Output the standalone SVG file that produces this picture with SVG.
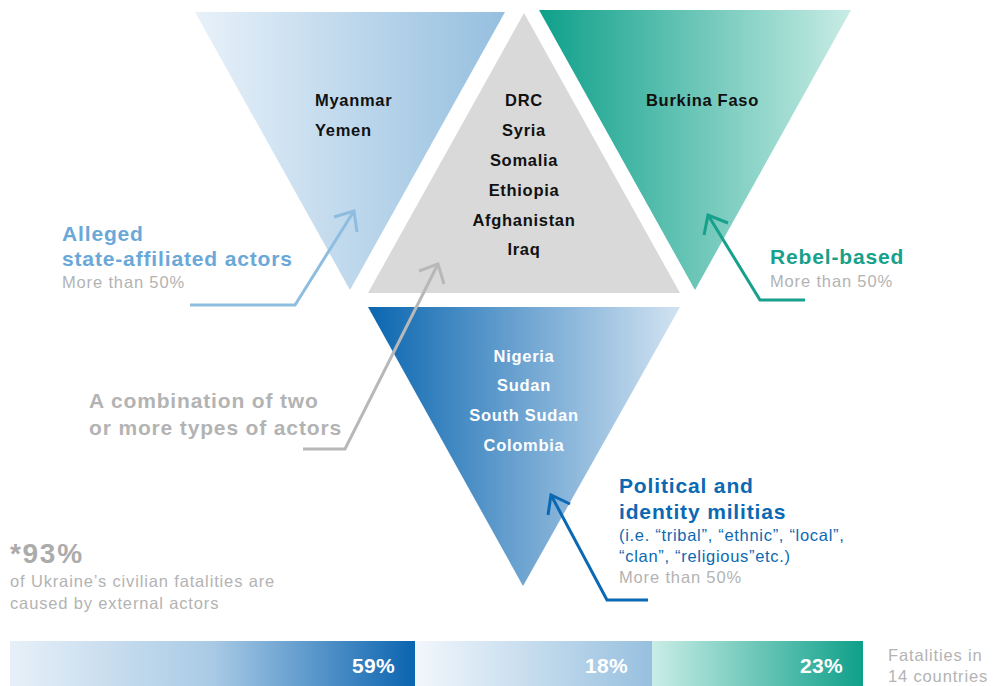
<svg xmlns="http://www.w3.org/2000/svg" width="998" height="686" viewBox="0 0 998 686">
  <defs>
    <linearGradient id="gState" x1="0" y1="0" x2="1" y2="0">
      <stop offset="0" stop-color="#e8f1f9"/>
      <stop offset="1" stop-color="#95bfdf"/>
    </linearGradient>
    <linearGradient id="gRebel" x1="0" y1="0" x2="1" y2="0">
      <stop offset="0" stop-color="#0ea08a"/>
      <stop offset="1" stop-color="#c8ece5"/>
    </linearGradient>
    <linearGradient id="gMilitia" x1="0" y1="0" x2="1" y2="0">
      <stop offset="0" stop-color="#0a66b0"/>
      <stop offset="1" stop-color="#d2e3f2"/>
    </linearGradient>
    <linearGradient id="bar1" x1="0" y1="0" x2="1" y2="0">
      <stop offset="0" stop-color="#e7f0f8"/>
      <stop offset="0.5" stop-color="#a9cae5"/>
      <stop offset="1" stop-color="#0a64b0"/>
    </linearGradient>
    <linearGradient id="bar2" x1="0" y1="0" x2="1" y2="0">
      <stop offset="0" stop-color="#f2f7fc"/>
      <stop offset="1" stop-color="#97c0df"/>
    </linearGradient>
    <linearGradient id="bar3" x1="0" y1="0" x2="1" y2="0">
      <stop offset="0" stop-color="#c9ede6"/>
      <stop offset="1" stop-color="#0ea08a"/>
    </linearGradient>
  </defs>
  <style>
    text { font-family: "Liberation Sans", Arial, sans-serif; }
    .country { font-size: 16.5px; font-weight: bold; fill: #111; letter-spacing: 0.7px; }
    .countryW { font-size: 16.5px; font-weight: bold; fill: #ffffff; letter-spacing: 0.7px; }
    .head { font-size: 21px; font-weight: bold; letter-spacing: 0.85px; }
    .sub { font-size: 16.5px; fill: #b3b3b3; letter-spacing: 0.85px; }
    .note { font-size: 16.5px; fill: #0b69b3; letter-spacing: 0.7px; }
    .conn { fill: none; stroke-width: 3; stroke-linejoin: miter; }
    .pct { font-size: 21px; font-weight: bold; fill: #ffffff; letter-spacing: 0.3px; }
  </style>

  <!-- Alleged state-affiliated actors -->
  <g id="state">
    <polygon points="195,12 505,12 350,290" fill="url(#gState)"/>
    <text class="country" x="315" y="106">Myanmar</text>
    <text class="country" x="315" y="136">Yemen</text>
  </g>

  <!-- Combination of actor types -->
  <g id="combination">
    <polygon points="524,13 680,293 368,293" fill="#d9d9d9"/>
    <g class="country" text-anchor="middle">
      <text x="524" y="106">DRC</text>
      <text x="524" y="136">Syria</text>
      <text x="524" y="166">Somalia</text>
      <text x="524" y="196">Ethiopia</text>
      <text x="524" y="226">Afghanistan</text>
      <text x="524" y="255">Iraq</text>
    </g>
  </g>

  <!-- Rebel-based -->
  <g id="rebel">
    <polygon points="539,10 851,10 695,290" fill="url(#gRebel)"/>
    <text class="country" x="646" y="106">Burkina Faso</text>
  </g>

  <!-- Political and identity militias -->
  <g id="militia">
    <polygon points="368,307 680,307 523,586" fill="url(#gMilitia)"/>
    <g class="countryW" text-anchor="middle">
      <text x="524" y="362">Nigeria</text>
      <text x="524" y="391">Sudan</text>
      <text x="524" y="421">South Sudan</text>
      <text x="524" y="451">Colombia</text>
    </g>
  </g>

  <!-- Leader lines -->
  <g id="connectors">
    <g stroke="#8fbde0" class="conn">
      <polyline points="190,305 295,305 354,211"/>
      <polyline points="334,217 354,211 357,232"/>
    </g>
    <g stroke="#b8b8b8" class="conn">
      <polyline points="303,449 345,449 438,264"/>
      <polyline points="419,271 438,264 444,284"/>
    </g>
    <g stroke="#17a08b" class="conn">
      <polyline points="805,300 760,300 708,215"/>
      <polyline points="728,223 708,215 704,235"/>
    </g>
    <g stroke="#0b69b3" class="conn">
      <polyline points="648,600 607,600 551,495"/>
      <polyline points="548,515 551,495 570,504"/>
    </g>
  </g>

  <!-- Labels -->
  <g id="label-state">
    <text class="head" x="62" y="241" fill="#6aa8d8">Alleged</text>
    <text class="head" x="62" y="266" fill="#6aa8d8">state-affiliated actors</text>
    <text class="sub" x="62" y="288">More than 50%</text>
  </g>
  <g id="label-combination">
    <text class="head" x="89" y="408" fill="#b3b3b3">A combination of two</text>
    <text class="head" x="89" y="435" fill="#b3b3b3">or more types of actors</text>
  </g>
  <g id="label-rebel">
    <text class="head" x="770" y="264" fill="#17a08b">Rebel-based</text>
    <text class="sub" x="770" y="287">More than 50%</text>
  </g>
  <g id="label-militia">
    <text class="head" x="619" y="493" fill="#0b69b3">Political and</text>
    <text class="head" x="619" y="519" fill="#0b69b3">identity militias</text>
    <text class="note" x="619" y="541">(i.e. “tribal”, “ethnic”, “local”,</text>
    <text class="note" x="619" y="562">“clan”, “religious”etc.)</text>
    <text class="sub" x="619" y="583">More than 50%</text>
  </g>
  <g id="note-ukraine">
    <text x="10" y="563" font-size="28" font-weight="bold" fill="#ababab" letter-spacing="1.7">*93%</text>
    <text class="sub" x="10" y="587" fill="#a8a8a8">of Ukraine’s civilian fatalities are</text>
    <text class="sub" x="10" y="609" fill="#a8a8a8">caused by external actors</text>
  </g>

  <!-- Share of fatalities bar -->
  <g id="bar">
    <rect x="10" y="641" width="405" height="45" fill="url(#bar1)"/>
    <rect x="415" y="641" width="237" height="45" fill="url(#bar2)"/>
    <rect x="652" y="641" width="211" height="45" fill="url(#bar3)"/>
    <text class="pct" x="395" y="673" text-anchor="end">59%</text>
    <text class="pct" x="628" y="673" text-anchor="end">18%</text>
    <text class="pct" x="843" y="673" text-anchor="end">23%</text>
    <text class="sub" x="888" y="661" fill="#bdbdbd">Fatalities in</text>
    <text class="sub" x="888" y="682" fill="#bdbdbd">14 countries</text>
  </g>
</svg>
